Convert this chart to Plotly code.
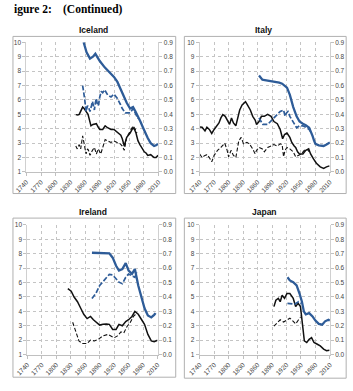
import plotly.graph_objects as go

# ---------------- data ----------------
# Solid lines: left axis (1-10); dashed lines: right axis (0.0-0.9)
ice_blue_solid_x = [1857, 1863, 1870, 1876, 1881, 1890, 1900, 1910, 1919, 1926, 1932, 1938, 1945, 1952, 1958, 1963, 1968, 1973, 1978, 1983, 1988, 1994, 2001, 2005, 2009]
ice_blue_solid_y = [10.0, 9.3, 8.87, 9.0, 9.2, 8.7, 8.26, 7.9, 7.6, 7.25, 6.8, 6.3, 5.8, 5.4, 5.5, 5.2, 4.9, 4.5, 4.1, 3.7, 3.35, 3.0, 2.8, 2.85, 2.95]
ice_blue_dash_x = [1855, 1857, 1859, 1862, 1865, 1867, 1870, 1873, 1875, 1877, 1879, 1881, 1883, 1885, 1887, 1890, 1893, 1896, 1900, 1906, 1913, 1919, 1926, 1932, 1936, 1942, 1947, 1952, 1958, 1963, 1968]
ice_blue_dash_y = [0.60, 0.56, 0.51, 0.42, 0.46, 0.45, 0.42, 0.46, 0.49, 0.46, 0.43, 0.48, 0.51, 0.47, 0.46, 0.52, 0.56, 0.55, 0.57, 0.535, 0.52, 0.54, 0.51, 0.47, 0.44, 0.41, 0.41, 0.41, 0.44, 0.41, 0.37]
ice_black_solid_x = [1841, 1845, 1848, 1851, 1853, 1855, 1858, 1861, 1864, 1866, 1869, 1872, 1876, 1879, 1883, 1887, 1890, 1896, 1901, 1906, 1913, 1919, 1925, 1929, 1933, 1936, 1940, 1945, 1952, 1958, 1961, 1964, 1968, 1972, 1975, 1981, 1985, 1988, 1994, 2001, 2005, 2009]
ice_black_solid_y = [4.98, 4.95, 5.0, 5.2, 5.3, 5.5, 5.4, 5.2, 5.1, 5.0, 4.6, 4.2, 4.3, 4.3, 4.35, 4.1, 3.95, 3.95, 4.2, 4.07, 3.95, 3.95, 3.8, 3.7, 3.55, 3.3, 2.8, 3.4, 3.7, 4.07, 3.95, 3.7, 3.17, 2.9, 2.7, 2.4, 2.3, 2.15, 2.2, 2.0, 2.0, 2.15]
ice_black_dash_x = [1841, 1844, 1848, 1851, 1855, 1859, 1862, 1865, 1867, 1870, 1873, 1875, 1879, 1883, 1887, 1892, 1896, 1901, 1906, 1913, 1919, 1926, 1932, 1936, 1940, 1945, 1952, 1958, 1962, 1966]
ice_black_dash_y = [0.18, 0.16, 0.19, 0.16, 0.25, 0.19, 0.125, 0.16, 0.15, 0.115, 0.14, 0.15, 0.17, 0.125, 0.16, 0.125, 0.17, 0.225, 0.215, 0.205, 0.215, 0.205, 0.195, 0.18, 0.15, 0.24, 0.285, 0.32, 0.30, 0.27]

ita_blue_solid_x = [1863, 1867, 1870, 1875, 1881, 1890, 1898, 1905, 1911, 1916, 1921, 1927, 1934, 1941, 1947, 1954, 1960, 1967, 1971, 1974, 1977, 1980, 1987, 1997, 2003, 2010]
ita_blue_solid_y = [7.7, 7.55, 7.4, 7.38, 7.35, 7.3, 7.25, 7.2, 7.13, 7.0, 6.85, 6.35, 5.5, 4.86, 4.5, 4.35, 4.25, 4.07, 3.8, 3.5, 3.2, 2.95, 2.85, 2.8, 2.9, 3.05]
ita_blue_dash_x = [1863, 1867, 1871, 1881, 1891, 1901, 1907, 1914, 1917, 1920, 1923, 1927, 1934, 1941, 1947, 1954, 1960, 1967, 1970]
ita_blue_dash_y = [0.375, 0.35, 0.33, 0.33, 0.364, 0.398, 0.42, 0.43, 0.386, 0.41, 0.42, 0.386, 0.35, 0.307, 0.32, 0.32, 0.31, 0.295, 0.28]
ita_black_solid_x = [1740, 1745, 1751, 1755, 1760, 1765, 1770, 1775, 1780, 1784, 1788, 1793, 1797, 1802, 1806, 1810, 1815, 1819, 1823, 1828, 1835, 1839, 1845, 1850, 1855, 1858, 1863, 1868, 1874, 1881, 1888, 1894, 1901, 1907, 1912, 1916, 1921, 1927, 1931, 1936, 1939, 1943, 1947, 1954, 1960, 1966, 1970, 1976, 1982, 1990, 1997, 2003, 2009]
ita_black_solid_y = [4.12, 4.1, 3.85, 4.1, 3.95, 3.67, 3.95, 4.2, 4.4, 4.75, 4.98, 4.86, 4.6, 4.3, 4.75, 4.4, 4.2, 4.86, 5.3, 5.65, 5.88, 5.65, 5.3, 4.86, 4.6, 4.3, 4.5, 4.86, 4.86, 5.0, 4.86, 4.5, 4.35, 3.95, 3.3, 3.6, 3.7, 3.4, 3.05, 2.8, 2.7, 2.4, 2.25, 2.25, 2.5, 2.6, 2.25, 1.9, 1.6, 1.35, 1.25, 1.35, 1.42]
ita_black_dash_x = [1740, 1745, 1751, 1755, 1760, 1765, 1770, 1777, 1784, 1792, 1797, 1800, 1805, 1810, 1815, 1821, 1826, 1831, 1838, 1843, 1850, 1855, 1858, 1863, 1870, 1874, 1881, 1888, 1894, 1901, 1907, 1911, 1914, 1917, 1921, 1927, 1934, 1939, 1944, 1951, 1957, 1964, 1967]
ita_black_dash_y = [0.125, 0.10, 0.115, 0.12, 0.10, 0.07, 0.115, 0.15, 0.17, 0.20, 0.15, 0.105, 0.15, 0.115, 0.10, 0.215, 0.24, 0.195, 0.205, 0.195, 0.16, 0.125, 0.15, 0.17, 0.16, 0.14, 0.17, 0.18, 0.19, 0.18, 0.195, 0.19, 0.105, 0.15, 0.17, 0.16, 0.14, 0.105, 0.115, 0.125, 0.15, 0.155, 0.14]

ire_blue_solid_x = [1874, 1884, 1894, 1904, 1910, 1917, 1924, 1930, 1937, 1944, 1950, 1957, 1963, 1970, 1977, 1983, 1990, 1997, 2003, 2006]
ire_blue_solid_y = [8.07, 8.07, 8.07, 8.05, 8.03, 7.73, 7.17, 6.83, 6.94, 7.35, 6.83, 6.6, 6.94, 5.8, 4.9, 4.22, 3.72, 3.58, 3.76, 3.88]
ire_blue_dash_x = [1874, 1882, 1890, 1900, 1910, 1917, 1924, 1930, 1937, 1944, 1950, 1957, 1963, 1967]
ire_blue_dash_y = [0.39, 0.424, 0.48, 0.52, 0.557, 0.553, 0.526, 0.503, 0.492, 0.537, 0.56, 0.549, 0.537, 0.57]
ire_black_solid_x = [1824, 1831, 1837, 1844, 1851, 1857, 1864, 1871, 1877, 1884, 1890, 1897, 1904, 1910, 1917, 1924, 1930, 1937, 1944, 1950, 1957, 1963, 1970, 1977, 1983, 1990, 1997, 2003, 2010]
ire_black_solid_y = [5.58, 5.4, 5.0, 4.67, 4.2, 3.8, 3.5, 3.65, 3.42, 3.2, 3.05, 3.1, 3.13, 3.1, 2.75, 2.75, 3.1, 3.0, 3.3, 3.42, 3.65, 4.0, 3.8, 3.42, 3.1, 2.4, 1.95, 1.9, 2.0]
ire_black_dash_x = [1834, 1841, 1847, 1854, 1864, 1871, 1879, 1887, 1897, 1907, 1914, 1920, 1927, 1934, 1940, 1947, 1953, 1960, 1967]
ire_black_dash_y = [0.225, 0.15, 0.095, 0.077, 0.077, 0.10, 0.095, 0.106, 0.13, 0.14, 0.13, 0.117, 0.13, 0.158, 0.15, 0.197, 0.22, 0.265, 0.288]

jpn_blue_solid_x = [1922, 1927, 1934, 1941, 1947, 1952, 1956, 1960, 1967, 1974, 1980, 1987, 1994, 2000, 2007, 2010]
jpn_blue_solid_y = [6.37, 6.15, 6.03, 5.8, 5.24, 4.67, 4.0, 3.8, 3.88, 3.65, 3.36, 3.13, 3.08, 3.31, 3.42, 3.36]
jpn_blue_dash_x = [1922, 1931, 1937, 1945, 1950]
jpn_blue_dash_y = [0.356, 0.35, 0.35, 0.367, 0.356]
jpn_black_solid_x = [1894, 1898, 1903, 1907, 1911, 1916, 1921, 1927, 1934, 1939, 1944, 1949, 1954, 1957, 1962, 1967, 1972, 1977, 1984, 1990, 1997, 2003, 2009]
jpn_black_solid_y = [4.33, 4.78, 4.9, 4.67, 5.12, 4.9, 5.24, 5.24, 4.9, 4.33, 4.56, 4.33, 2.86, 1.95, 1.84, 2.06, 2.18, 1.84, 1.72, 1.6, 1.38, 1.27, 1.31]
jpn_black_dash_x = [1894, 1901, 1907, 1914, 1921, 1927, 1934, 1939, 1945, 1949]
jpn_black_dash_y = [0.197, 0.22, 0.242, 0.226, 0.242, 0.253, 0.231, 0.213, 0.242, 0.258]

countries = ["Iceland", "Italy", "Ireland", "Japan"]
x_ticks = [1740, 1770, 1800, 1830, 1860, 1890, 1920, 1950, 1980, 2010]
left_ticks = [1, 2, 3, 4, 5, 6, 7, 8, 9, 10]
right_ticks = [0.0, 0.1, 0.2, 0.3, 0.4, 0.5, 0.6, 0.7, 0.8, 0.9]

series = {
    "Iceland": (ice_blue_solid_x, ice_blue_solid_y, ice_blue_dash_x, ice_blue_dash_y,
                ice_black_solid_x, ice_black_solid_y, ice_black_dash_x, ice_black_dash_y),
    "Italy": (ita_blue_solid_x, ita_blue_solid_y, ita_blue_dash_x, ita_blue_dash_y,
              ita_black_solid_x, ita_black_solid_y, ita_black_dash_x, ita_black_dash_y),
    "Ireland": (ire_blue_solid_x, ire_blue_solid_y, ire_blue_dash_x, ire_blue_dash_y,
                ire_black_solid_x, ire_black_solid_y, ire_black_dash_x, ire_black_dash_y),
    "Japan": (jpn_blue_solid_x, jpn_blue_solid_y, jpn_blue_dash_x, jpn_blue_dash_y,
              jpn_black_solid_x, jpn_black_solid_y, jpn_black_dash_x, jpn_black_dash_y),
}

# ---------------- layout geometry (pixels) ----------------
W, H = 353, 391
plot_px = {  # x0, x1, ytop, ybottom
    "Iceland": (15, 153, 39, 171),
    "Italy": (196, 332, 39, 171),
    "Ireland": (16, 152, 225, 357),
    "Japan": (196, 332, 225, 357),
}
box_px = {
    "Iceland": (1, 171, 33, 193),
    "Italy": (180, 349, 33, 193),
    "Ireland": (1, 171, 218, 380),
    "Japan": (180, 349, 218, 381),
}
title_px = {"Iceland": (85, 26), "Italy": (263, 26), "Ireland": (85, 212), "Japan": (264, 212)}

BLUE = "#2E5C98"
BLACK = "#111111"
GRID = "#c4c4c4"
TICKC = "#444444"
FONT = "Liberation Sans"

fig = go.Figure()
layout = {}
shapes = []
annotations = []

for i, c in enumerate(countries):
    n = i + 1
    xa = "x" if n == 1 else f"x{n}"
    ya = f"y{2*n-1}" if n > 1 else "y"
    ya2 = f"y{2*n}"
    bsx, bsy, bdx, bdy, ksx, ksy, kdx, kdy = series[c]
    fig.add_trace(go.Scatter(x=kdx, y=kdy, xaxis=xa, yaxis=ya2, mode="lines",
                             line=dict(color=BLACK, width=1.1, dash="4px,2px")))
    fig.add_trace(go.Scatter(x=ksx, y=ksy, xaxis=xa, yaxis=ya, mode="lines",
                             line=dict(color=BLACK, width=1.5)))
    fig.add_trace(go.Scatter(x=bdx, y=bdy, xaxis=xa, yaxis=ya2, mode="lines",
                             line=dict(color=BLUE, width=1.7, dash="5px,2px")))
    fig.add_trace(go.Scatter(x=bsx, y=bsy, xaxis=xa, yaxis=ya, mode="lines",
                             line=dict(color=BLUE, width=2.3)))

    x0, x1, yt, yb = plot_px[c]
    xdom = [x0 / W, x1 / W]
    ydom = [1 - yb / H, 1 - yt / H]
    xkey = "xaxis" if n == 1 else f"xaxis{n}"
    ykey = "yaxis" if n == 1 else f"yaxis{2*n-1}"
    y2key = f"yaxis{2*n}"
    yname = "y" if n == 1 else f"y{2*n-1}"
    layout[xkey] = dict(domain=xdom, anchor=yname, range=[1740, 2010], tickvals=x_ticks,
                        ticktext=[str(t) for t in x_ticks], tickangle=-45,
                        showgrid=True, gridcolor=GRID, griddash="dot", gridwidth=1,
                        showline=True, linecolor="#c0c0c0", linewidth=1,
                        ticks="outside", ticklen=3, tickcolor="#c0c0c0",
                        tickfont=dict(size=6.5, color=TICKC, family=FONT),
                        zeroline=False, fixedrange=True)
    layout[ykey] = dict(domain=ydom, anchor=xa, range=[1, 10], tickvals=left_ticks,
                        showgrid=True, gridcolor=GRID, griddash="dot", gridwidth=1,
                        showline=True, linecolor="#d0d0d0", linewidth=1,
                        ticks="outside", ticklen=3, tickcolor="#c0c0c0",
                        tickfont=dict(size=6.5, color=TICKC, family=FONT),
                        zeroline=False, fixedrange=True)
    layout[y2key] = dict(domain=ydom, anchor=xa, overlaying=yname, side="right",
                         range=[0, 0.9], tickvals=right_ticks, tickformat=".1f",
                         showgrid=False, showline=True, linecolor="#d0d0d0", linewidth=1,
                         ticks="outside", ticklen=3, tickcolor="#c0c0c0",
                         tickfont=dict(size=6.5, color=TICKC, family=FONT),
                         zeroline=False, fixedrange=True)

    bx0, bx1, by0, by1 = box_px[c]
    shapes.append(dict(type="rect", xref="paper", yref="paper",
                       x0=bx0 / W, x1=bx1 / W, y0=1 - by1 / H, y1=1 - by0 / H,
                       line=dict(color="#b0b0b0", width=1), fillcolor="rgba(0,0,0,0)", layer="below"))
    tx, ty = title_px[c]
    annotations.append(dict(text=f"<b>{c}</b>", x=tx / W, y=1 - ty / H, xref="paper", yref="paper",
                            showarrow=False, xanchor="center", yanchor="middle",
                            font=dict(size=8.5, color="#111111", family=FONT)))

annotations.append(dict(text="<b>igure 2:</b>", x=0, y=1 - 6 / H, xref="paper", yref="paper",
                        showarrow=False, xanchor="left", yanchor="middle",
                        font=dict(size=11.5, color="#000000", family="Liberation Serif")))
annotations.append(dict(text="<b>(Continued)</b>", x=51 / W, y=1 - 6 / H, xref="paper", yref="paper",
                        showarrow=False, xanchor="left", yanchor="middle",
                        font=dict(size=11.5, color="#000000", family="Liberation Serif")))

fig.update_layout(**layout)
fig.update_layout(width=W, height=H, margin=dict(l=0, r=0, t=0, b=0),
                  paper_bgcolor="white", plot_bgcolor="white", showlegend=False,
                  shapes=shapes, annotations=annotations,
                  font=dict(family=FONT))

fig.write_html("out.html", config={"displayModeBar": False})
